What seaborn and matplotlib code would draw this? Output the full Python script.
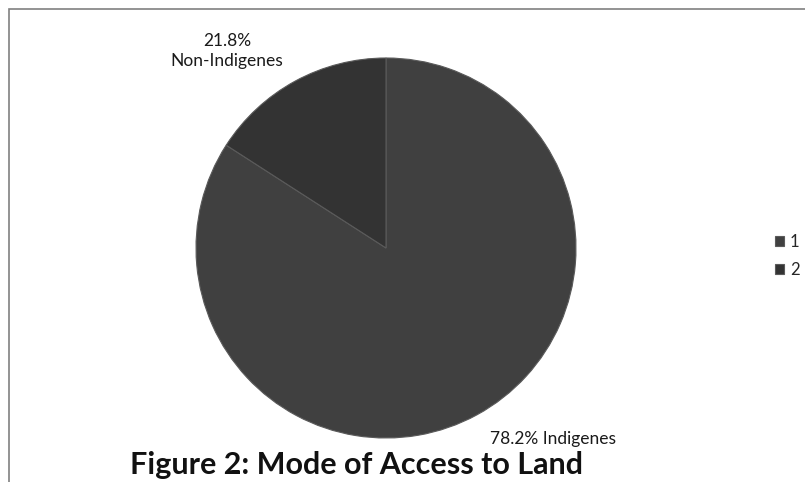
import matplotlib
matplotlib.use('Agg')
import matplotlib.pyplot as plt
from matplotlib.patches import Rectangle
import seaborn as sns

sns.set_theme(style='white')
plt.rcParams['font.family'] = ['Lato', 'DejaVu Sans']

# slice shares as drawn in the picture, labels as printed on it
groups = ['Indigenes', 'Non-Indigenes']
shares = [84.1, 15.9]
pct_labels = ['78.2%', '21.8%']
legend_labels = ['1', '2']
colors = ['#404040', '#333333']

W, H = 805, 482
fig = plt.figure(figsize=(W / 100, H / 100), dpi=100)

# outer chart border (only top and left show in the crop)
fig.add_artist(Rectangle((8.5 / W, -0.1), 1.2, (H - 8.5) / H + 0.1,
                         transform=fig.transFigure, fill=False,
                         edgecolor='#808080', linewidth=1.2))

cx, cy, r = 386, 248, 190
ax = fig.add_axes([(cx - r) / W, (H - cy - r) / H, 2 * r / W, 2 * r / H])
wedges, _ = ax.pie(shares, colors=colors, startangle=90, counterclock=False,
                   wedgeprops=dict(edgecolor='#5a5a5a', linewidth=0.8))
ax.set_xlim(-1, 1)
ax.set_ylim(-1, 1)
ax.set_aspect('auto')
ax.axis('off')

ax.text(-0.837, 1.037, f'{pct_labels[1]}\n{groups[1]}', ha='center', va='center',
        fontsize=12.5, color='#1a1a1a', linespacing=1.3, clip_on=False)
ax.text(0.879, -1.005, f'{pct_labels[0]} {groups[0]}', ha='center', va='center',
        fontsize=12.5, color='#1a1a1a', clip_on=False)

fig.text(356 / W, 1 - 465 / H, 'Figure 2: Mode of Access to Land', ha='center',
         va='center', fontsize=22, fontweight='bold', color='#111111')

fig.legend(wedges, legend_labels, loc='center left',
           bbox_to_anchor=(775 / W, 1 - 256 / H), frameon=False, fontsize=12,
           borderpad=0, borderaxespad=0,
           handlelength=0.55, handleheight=0.55, handletextpad=0.35,
           labelspacing=0.7)

fig.savefig('out.png', dpi=100)
